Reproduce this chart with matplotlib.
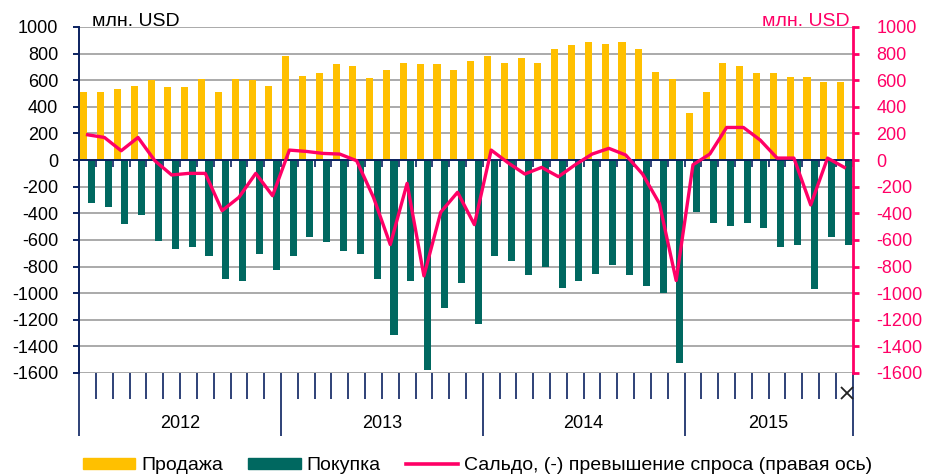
import matplotlib
matplotlib.use("Agg")
import matplotlib.pyplot as plt
import matplotlib.transforms as mtransforms
from matplotlib.patches import Patch
from matplotlib.lines import Line2D
import numpy as np

plt.rcParams['font.family'] = ['Liberation Sans', 'DejaVu Sans']

# Monthly FX market turnover, Jan 2012 - Oct 2015 (mln USD)
years = ['2012', '2013', '2014', '2015']
months_per_year = [12, 12, 12, 10]

sales = [510, 510, 535, 560, 600, 550, 550, 610, 510, 610, 600, 560,
         785, 630, 655, 720, 705, 615, 680, 730, 720, 720, 680, 745,
         785, 730, 770, 730, 835, 865, 890, 875, 890, 835, 665, 610,
         350, 510, 730, 705, 655, 655, 625, 625, 585, 585]

purchases = [-325, -350, -480, -415, -605, -670, -655, -720, -890, -905, -705, -825,
             -720, -575, -615, -680, -705, -890, -1315, -905, -1580, -1115, -920, -1235,
             -720, -760, -865, -800, -960, -905, -855, -785, -865, -945, -1000, -1525,
             -390, -470, -495, -470, -510, -655, -640, -970, -575, -640]

balance = [190, 170, 70, 170, -5, -112, -100, -100, -380, -280, -100, -268,
           75, 65, 50, 45, -5, -280, -635, -175, -870, -392, -242, -485,
           75, -20, -105, -55, -125, -35, 45, 88, 38, -105, -325, -905,
           -35, 45, 245, 245, 150, 15, 15, -337, 15, -55]

y_ticks = list(range(-1600, 1001, 200))

YELLOW = '#FFC000'
TEAL = '#006860'
PINK = '#FF0066'
NAVY = '#0B2160'
GRID = '#9C9C9C'

n = len(sales)
x = np.arange(n)

fig = plt.figure(figsize=(9.27, 4.76), dpi=100)
ax = fig.add_axes([0.0854, 0.2164, 0.8345, 0.7269])

ax.bar(x + 0.28, sales, width=0.42, color=YELLOW, zorder=2)
ax.bar(x + 0.72, purchases, width=0.42, color=TEAL, zorder=2)

ax.set_xlim(0, n)
ax.set_ylim(-1600, 1000)
ax.set_yticks(y_ticks)
ax.set_yticklabels([str(v) for v in y_ticks])
ax.yaxis.grid(True, color=GRID, linewidth=1.2)
ax.set_axisbelow(True)

# category axis sits on the zero line
boundaries = np.arange(0, n + 1)
ax.spines['bottom'].set_position(('data', 0))
ax.spines['bottom'].set_color(NAVY)
ax.spines['bottom'].set_linewidth(1.4)
ax.spines['bottom'].set_zorder(3)
ax.spines['top'].set_visible(False)
ax.spines['right'].set_visible(False)
ax.spines['left'].set_color(NAVY)
ax.spines['left'].set_linewidth(1.4)
ax.set_xticks(boundaries)
ax.set_xticklabels([])
ax.tick_params(axis='x', direction='out', length=5, width=1.2, color=NAVY)
ax.tick_params(axis='y', direction='out', length=4, width=1.4, color=NAVY,
               labelsize=13, pad=11, labelcolor='black')

# month / year separators below the plot
year_edges = np.cumsum([0] + months_per_year)
month_edges = [b for b in boundaries if b not in year_edges]
sec = ax.secondary_xaxis(0)
for s in sec.spines.values():
    s.set_visible(False)
sec.set_xticks(year_edges)
sec.set_xticklabels([])
sec.set_xticks(month_edges, minor=True)
sec.tick_params(which='major', direction='out', length=45, width=1.2, color=NAVY)
sec.tick_params(which='minor', direction='out', length=18.5, width=1.2, color=NAVY)

trans = mtransforms.blended_transform_factory(ax.transData, ax.transAxes)
for i, yr in enumerate(years):
    centre = (year_edges[i] + year_edges[i + 1]) / 2
    ax.text(centre, -0.145, yr, transform=trans, ha='center', va='center',
            fontsize=13, color='black')
ax.plot([n - 0.35], [-0.058], transform=trans, marker='x', ms=8, mew=1.3,
        color='#222222', clip_on=False, linestyle='none')

# balance on the right-hand axis
ax2 = ax.twinx()
ax2.plot(x + 0.5, balance, color=PINK, linewidth=2.4, zorder=4)
ax2.set_ylim(-1600, 1000)
ax2.set_yticks(y_ticks)
ax2.set_yticklabels([str(v) for v in y_ticks])
for side in ['top', 'left', 'bottom']:
    ax2.spines[side].set_visible(False)
ax2.spines['right'].set_color(PINK)
ax2.spines['right'].set_linewidth(2)
ax2.tick_params(axis='y', direction='out', length=4, width=2, color=PINK,
                labelsize=13, pad=13, labelcolor=PINK)

fig.text(0.099, 0.945, 'млн. USD', fontsize=14, color='black', ha='left', va='baseline')
fig.text(0.917, 0.945, 'млн. USD', fontsize=14, color=PINK, ha='right', va='baseline')

handles = [Patch(color=YELLOW, label='Продажа'),
           Patch(color=TEAL, label='Покупка'),
           Line2D([0], [0], color=PINK, linewidth=2.6,
                  label='Сальдо, (-) превышение спроса (правая ось)')]
fig.legend(handles=handles, loc='center', bbox_to_anchor=(0.515, 0.022), ncol=3,
           frameon=False, fontsize=14, handlelength=2.7, handleheight=0.5,
           handletextpad=0.3, columnspacing=1.3)

fig.savefig('out.png', dpi=100)
